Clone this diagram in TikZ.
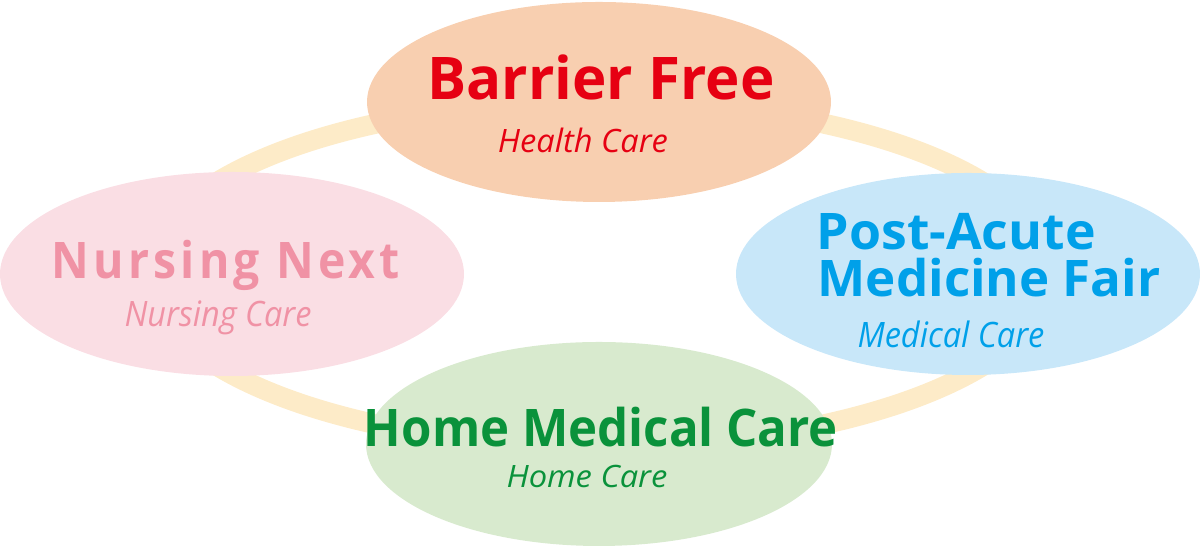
\documentclass[tikz,border=0pt]{standalone}
\usepackage{fontspec}
\setmainfont{Open Sans}
\usepackage{graphicx}
\usetikzlibrary{shapes.geometric}
\definecolor{ringyellow}{HTML}{FDEBC8}
\definecolor{peach}{HTML}{F8CFB0}
\definecolor{blush}{HTML}{FADEE4}
\definecolor{skyblue}{HTML}{C8E7F9}
\definecolor{mint}{HTML}{D8EACE}
\definecolor{healthred}{HTML}{E60012}
\definecolor{nursepink}{HTML}{F092A5}
\definecolor{medblue}{HTML}{00A0E9}
\definecolor{homegreen}{HTML}{0A923B}
% text stretched to a given width and cap height
\newcommand\fitcap[3]{\resizebox{#1}{#2}{\smash{#3}\vphantom{H}}}

\begin{document}
\begin{tikzpicture}[
    x=1cm, y=1cm,
    blob/.style={ellipse, minimum width=4.64cm, minimum height=2.02cm, inner sep=0pt},
    title/.style={anchor=base, inner sep=0pt, font=\bfseries},
    sub/.style={anchor=base, inner sep=0pt, font=\itshape},
  ]
  \useasboundingbox (0, 0) rectangle (12, 5.46);

  % Ring behind
  \draw[ringyellow, line width=0.2cm] (6.00, 2.72) ellipse (4.52 and 1.73);

  % Ellipses
  \node[blob, fill=peach, minimum height=2.00cm] (health) at (5.99, 4.44) {};
  \node[blob, fill=blush, minimum height=2.04cm] (nursing) at (2.32, 2.72) {};
  \node[blob, fill=skyblue] (medical) at (9.68, 2.72) {};
  \node[blob, fill=mint, minimum width=4.66cm, minimum height=2.04cm] (home) at (5.99, 1.02) {};

  % Health Care
  \node[title, text=healthred] (bfree) at (6.01, 4.46) {\fitcap{3.47cm}{0.42cm}{Barrier Free}};
  \node[sub, text=healthred] (hcare) at (5.83, 3.93) {\fitcap{1.70cm}{0.23cm}{Health Care}};

  % Nursing Care
  \node[title, text=nursepink] (nnext) at (2.26, 2.67)
    {\fitcap{3.48cm}{0.36cm}{\addfontfeature{LetterSpace=9}Nursing Next}};
  \node[sub, text=nursepink] (ncare) at (2.18, 2.19) {\fitcap{1.87cm}{0.25cm}{Nursing Care}};

  % Medical Care
  \node[title, text=medblue, anchor=base west] (pacute) at (8.16, 2.96) {\fitcap{2.79cm}{0.36cm}{Post-Acute}};
  \node[title, text=medblue, anchor=base west] (mfair) at (8.17, 2.49) {\fitcap{3.43cm}{0.36cm}{Medicine Fair}};
  \node[sub, text=medblue] (mcare) at (9.51, 1.98) {\fitcap{1.87cm}{0.25cm}{Medical Care}};

  % Home Care
  \node[title, text=homegreen] (hmed) at (6.01, 0.99) {\fitcap{4.74cm}{0.37cm}{Home Medical Care}};
  \node[sub, text=homegreen] (hocare) at (5.87, 0.58) {\fitcap{1.61cm}{0.22cm}{Home Care}};
\end{tikzpicture}
\end{document}
